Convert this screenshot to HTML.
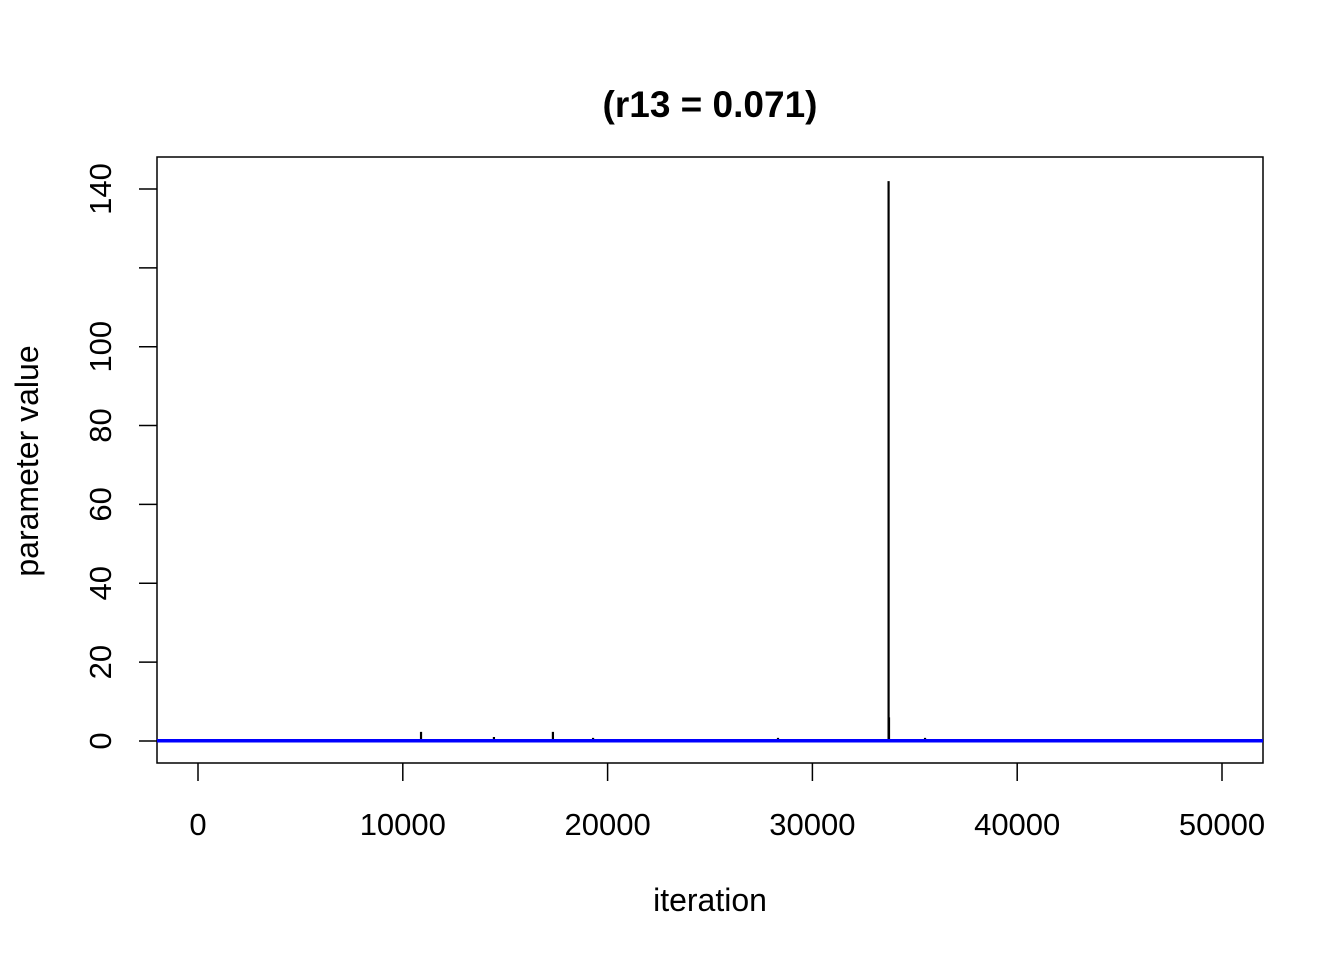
<!DOCTYPE html>
<html><head><meta charset="utf-8"><style>
body{margin:0;background:#fff;}
svg text{font-family:"Liberation Sans",Arial,sans-serif;}
</style></head><body>
<svg id="chart" width="1344" height="960">
<text x="710" y="117" text-anchor="middle" font-size="37" font-weight="bold">(r13 = 0.071)</text>
<rect x="157" y="157" width="1106" height="606" fill="none" stroke="#000" stroke-width="1.5"/>
<g id="xaxis"></g>
<g id="yaxis"></g>
<text x="710" y="911" text-anchor="middle" font-size="32">iteration</text>
<text transform="translate(38,461) rotate(-90)" text-anchor="middle" font-size="32">parameter value</text>
<g id="series"></g>
</svg>
<script>
const xTicks=[0,10000,20000,30000,40000,50000];
const yTicks=[0,20,40,60,80,100,120,140];
const yLabels=["0","20","40","60","80","100","","140"];
const iters=[0,2400,5900,10890,14450,16400,17330,18460,19290,21240,28320,33720,33740,35500,37700,50000];
const values=[0.1,0.3,0.3,2.3,1.0,0.3,2.3,0.5,0.8,0.3,0.8,142,6,0.8,0.3,0.1];
const meanValue=0.071;
const ns="http://www.w3.org/2000/svg";
const X=v=>198+v*0.02048, Y=v=>741-v*3.943;
function mk(t,a,p){const e=document.createElementNS(ns,t);for(const k in a)e.setAttribute(k,a[k]);p.appendChild(e);return e;}
const xa=document.getElementById('xaxis'),ya=document.getElementById('yaxis'),s=document.getElementById('series');
xTicks.forEach(v=>{
 const l=mk('line',{x1:X(v),x2:X(v),y1:763,y2:781,stroke:'#000','stroke-width':1.5},xa);
 
 
 const t=mk('text',{x:X(v),y:835,'text-anchor':'middle','font-size':31},xa);t.textContent=v;
 
 
});
yTicks.forEach((v,i)=>{
 const l=mk('line',{x1:139,x2:157,y1:Y(v),y2:Y(v),stroke:'#000','stroke-width':1.5},ya);
 
 
 if(yLabels[i]){const t=mk('text',{transform:`translate(111,${Y(v)}) rotate(-90)`,'text-anchor':'middle','font-size':31},ya);t.textContent=yLabels[i];
 
 }
});
let d=`M${X(0)},${Y(0)}`;
iters.forEach((it,i)=>{d+=` L${X(it)},${Y(0)} L${X(it)},${Y(values[i])} L${X(it)},${Y(0)}`;});
d+=` L${X(50000)},${Y(0)}`;
const p=mk('path',{d:d,fill:'none',stroke:'#000','stroke-width':2.2},s);


const m=mk('line',{x1:157,x2:1263,y1:Y(meanValue),y2:Y(meanValue),stroke:'#0000ff','stroke-width':3.5},s);


</script>
</body></html>
